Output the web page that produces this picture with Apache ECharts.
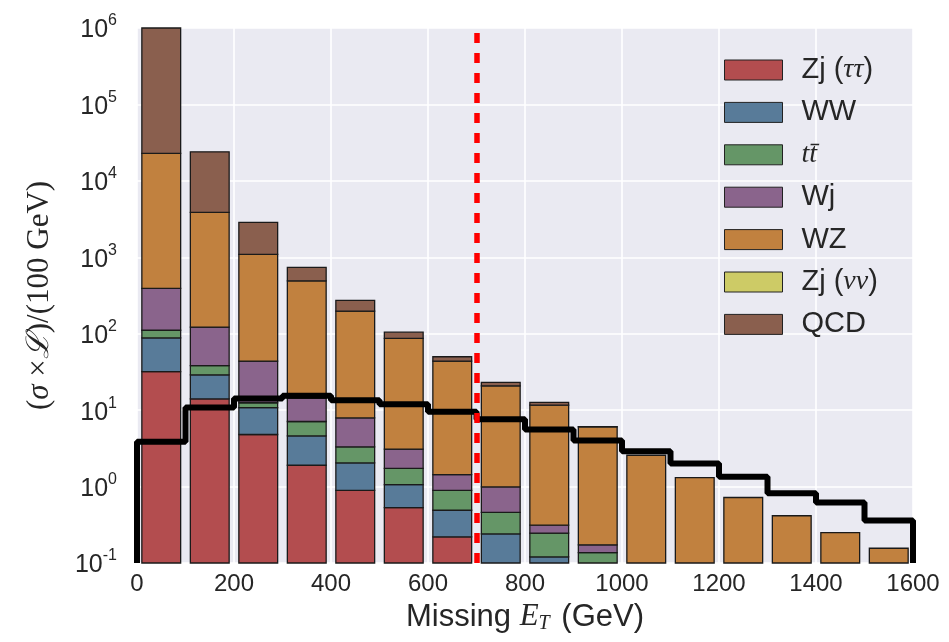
<!DOCTYPE html>
<html>
<head>
<meta charset="utf-8">
<script src="https://cdn.jsdelivr.net/npm/echarts@6/dist/echarts.min.js"></script>
<style>
html, body { margin: 0; padding: 0; background: #fff; }
#main { width: 949px; height: 642px; }
</style>
</head>
<body>
<div id="main"></div>
<script>
// histogram bins (left edge, GeV)
var binStart = [0, 100, 200, 300, 400, 500, 600, 700, 800, 900, 1000, 1100, 1200, 1300, 1400, 1500];

// background contributions per bin, stacked bottom -> top
var zjTauTau = [32, 14, 4.8, 1.9, 0.89, 0.53, 0.22, 0.05, 0.02, 0.01, 0, 0, 0, 0, 0, 0];
var ww       = [56, 15, 6.0, 2.7, 1.15, 0.53, 0.27, 0.19, 0.10, 0.04, 0, 0, 0, 0, 0, 0];
var ttbar    = [23, 9.3, 1.7, 2.5, 1.27, 0.67, 0.40, 0.22, 0.126, 0.087, 0, 0, 0, 0, 0, 0];
var wj       = [281, 84, 31.3, 7.3, 4.6, 1.36, 0.54, 0.53, 0.067, 0.036, 0, 0, 0, 0, 0, 0];
var wz       = [22500, 3750, 1046, 478, 190, 83.7, 42.4, 19.8, 11.3, 5.87, 2.57, 1.31, 0.72, 0.415, 0.25, 0.156];
var zjNuNu   = [0, 0, 0, 0, 0, 0, 0, 0, 0, 0, 0, 0, 0, 0, 0, 0];
var qcd      = [1180000, 20100, 1770, 246, 75, 18, 6.1, 2.3, 1.0, 0.06, 0, 0, 0, 0, 0, 0];

// signal histogram (black step line)
var signal = [3.85, 10.8, 14.2, 15.4, 13.5, 11.9, 9.5, 7.6, 5.6, 4.0, 2.9, 2.0, 1.34, 0.82, 0.62, 0.36];

var cutValue = 700;
var yMin = 0.1, yMax = 1e6;
var binWidth = 100;

var bkg = [
    {name: 'Zj (ττ)', color: '#B34D4F', values: zjTauTau},
    {name: 'WW', color: '#587B99', values: ww},
    {name: 'tt\u0304', color: '#659667', values: ttbar},
    {name: 'Wj', color: '#8A648C', values: wj},
    {name: 'WZ', color: '#C1813F', values: wz},
    {name: 'Zj (νν)', color: '#CDCB66', values: zjNuNu},
    {name: 'QCD', color: '#8A5F4E', values: qcd}
];

var legendText = {
    'Zj (ττ)': 'Zj ({m|ττ})',
    'tt\u0304': '{m|tt\u0304}',
    'Zj (νν)': 'Zj ({m|νν})'
};

var sansFont = 'Liberation Sans';
var serifFont = 'Liberation Serif';
var textColor = '#262626';

var chart = echarts.init(document.getElementById('main'));

function renderBar(params, api) {
    var x = api.value(0);
    var lo = Math.max(api.value(1), yMin);
    var hi = Math.min(api.value(2), yMax * 10);
    if (!(hi > lo)) return;
    var p0 = api.coord([x + 0.1 * binWidth, hi]);
    var p1 = api.coord([x + 0.9 * binWidth, lo]);
    var cs = params.coordSys;
    var shape = echarts.graphic.clipRectByRect(
        {x: p0[0], y: p0[1], width: p1[0] - p0[0], height: p1[1] - p0[1]},
        {x: cs.x, y: cs.y, width: cs.width, height: cs.height}
    );
    if (!shape) return;
    return {
        type: 'rect',
        shape: shape,
        style: {fill: api.visual('color'), stroke: '#1a1a1a', lineWidth: 1.3}
    };
}

// cumulative stacking
var cum = binStart.map(function() { return 0; });
var series = bkg.map(function(b) {
    var data = binStart.map(function(x, i) {
        var lo = cum[i];
        cum[i] += b.values[i];
        return [x, lo, cum[i]];
    });
    return {
        name: b.name,
        type: 'custom',
        renderItem: renderBar,
        itemStyle: {color: b.color, borderColor: '#1a1a1a', borderWidth: 1},
        encode: {x: 0, y: [1, 2]},
        data: data,
        z: 2
    };
});

// step line for signal
var stepData = [[binStart[0], yMin]];
binStart.forEach(function(x, i) { stepData.push([x, signal[i]]); });
var lastX = binStart[binStart.length - 1] + binWidth;
stepData.push([lastX, signal[signal.length - 1]]);
stepData.push([lastX, yMin]);

series.push({
    name: 'signal',
    type: 'line',
    step: 'end',
    data: stepData,
    showSymbol: false,
    symbol: 'none',
    lineStyle: {color: '#000', width: 6},
    z: 4,
    markLine: {
        silent: true,
        symbol: 'none',
        label: {show: false},
        lineStyle: {color: '#FF0000', type: [10, 10], width: 5.5},
        data: [{xAxis: cutValue}],
        z: 5
    }
});

var option = {
    animation: false,
    backgroundColor: '#fff',
    grid: {
        left: 137, right: 36, top: 28, bottom: 79,
        show: true, backgroundColor: '#EAEAF2', borderWidth: 0
    },
    legend: {
        orient: 'vertical',
        left: 719, top: 50,
        itemWidth: 58, itemHeight: 20, itemGap: 12.4,
        icon: 'rect',
        data: bkg.map(function(b) {
            return {name: b.name, itemStyle: {color: b.color, borderColor: '#222', borderWidth: 1}};
        }),
        formatter: function(name) {
            return '{gap|}' + (legendText[name] || name);
        },
        textStyle: {
            fontFamily: sansFont, fontSize: 29, lineHeight: 30, color: textColor,
            rich: {
                gap: {width: 14, lineHeight: 30},
                m: {fontFamily: serifFont, fontStyle: 'italic', fontSize: 28, lineHeight: 30, color: textColor}
            }
        }
    },
    xAxis: {
        type: 'value',
        min: 0, max: 1600, interval: 200,
        axisLine: {show: false},
        axisTick: {show: false},
        splitLine: {show: true, lineStyle: {color: '#fff', width: 1.6}},
        axisLabel: {
            fontFamily: sansFont, fontSize: 24, color: textColor, margin: 9,
            formatter: function(v) { return String(v); }
        },
        name: 'Missing {it|E}{sub|T} (GeV)',
        nameLocation: 'middle',
        nameGap: 37,
        nameTextStyle: {
            fontFamily: sansFont, fontSize: 31, color: textColor,
            rich: {
                it: {fontFamily: serifFont, fontStyle: 'italic', fontSize: 31, color: textColor},
                sub: {fontFamily: serifFont, fontStyle: 'italic', fontSize: 20, color: textColor, verticalAlign: 'bottom', padding: [14, 3, 0, 0]}
            }
        }
    },
    yAxis: {
        type: 'log',
        logBase: 10,
        min: yMin, max: yMax,
        axisLine: {show: false},
        axisTick: {show: false},
        splitLine: {show: true, lineStyle: {color: '#fff', width: 1.6}},
        axisLabel: {
            margin: 20,
            formatter: function(v) {
                var e = Math.round(Math.log(v) / Math.LN10);
                return '{b|10}{sup|' + e + '}';
            },
            rich: {
                b: {fontFamily: sansFont, fontSize: 25, color: textColor, verticalAlign: 'bottom'},
                sup: {fontFamily: sansFont, fontSize: 16, color: textColor, verticalAlign: 'top', padding: [0, 0, 14, 0]}
            }
        },
        name: '{s|(}{i|σ}{s| ×}{i|ℒ}{s|)/(100 GeV)}',
        nameLocation: 'middle',
        nameGap: 82,
        nameRotate: 90,
        nameTextStyle: {
            fontFamily: serifFont, fontSize: 31, color: textColor,
            rich: {
                s: {fontFamily: serifFont, fontSize: 31, color: textColor},
                i: {fontFamily: serifFont, fontStyle: 'italic', fontSize: 31, color: textColor}
            }
        }
    },
    series: series
};

chart.setOption(option);
</script>
</body>
</html>
